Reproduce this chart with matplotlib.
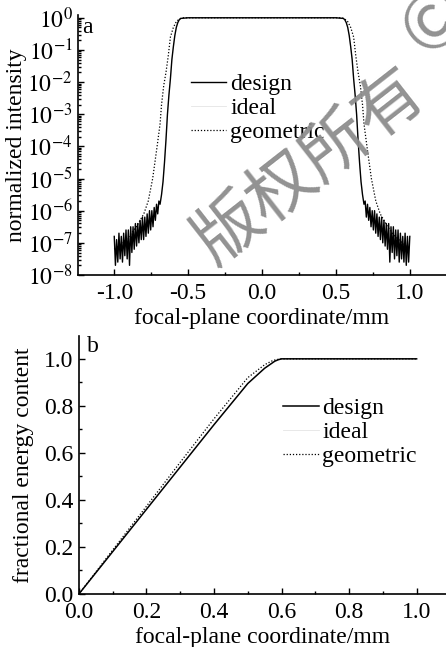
import numpy as np
import matplotlib
matplotlib.use("Agg")
import matplotlib.pyplot as plt
from matplotlib.ticker import LogLocator, MultipleLocator, NullFormatter, FuncFormatter

plt.rcParams['font.family'] = ['Liberation Serif', 'DejaVu Serif']
plt.rcParams['mathtext.fontset'] = 'stix'

# ---------------- panel a data (log10 of normalized intensity) ----------------
tail_left_log = [-6.8, -7.7, -6.9, -7.6, -6.7, -7.5, -6.8, -7.6, -6.7, -7.4,
                 -6.6, -7.5, -6.6, -7.7, -6.5, -7.3, -6.5, -7.2, -6.4, -7.1,
                 -6.4, -7.0, -6.3, -6.9, -6.2, -6.9, -6.2, -6.8, -6.1, -6.7,
                 -6.0, -6.6, -6.0, -6.5, -5.9, -6.3, -5.8, -6.1, -5.7, -5.8]
tail_right_log = [-5.8, -5.7, -6.2, -5.8, -6.3, -5.9, -6.5, -6.0, -6.6, -6.0,
                  -6.7, -6.1, -6.8, -6.2, -6.9, -6.2, -7.0, -6.3, -7.1, -6.4,
                  -7.2, -6.4, -7.6, -6.5, -7.3, -6.5, -7.5, -6.6, -7.4, -6.6,
                  -7.6, -6.7, -7.5, -6.8, -7.6, -6.7, -7.7, -6.8, -7.6, -6.8]
core_x = [-0.68, -0.67, -0.66, -0.65, -0.64, -0.63, -0.62, -0.61, -0.60, -0.59,
          -0.58, -0.57, -0.56, -0.55, -0.50, 0.0, 0.50, 0.55, 0.56, 0.57, 0.58,
          0.59, 0.60, 0.61, 0.62, 0.63, 0.64, 0.65, 0.66, 0.67, 0.68]
core_log = [-5.5, -5.1, -4.5, -3.8, -3.0, -2.4, -1.9, -1.3, -0.9, -0.55,
            -0.3, -0.15, -0.06, -0.02, 0.0, 0.0, 0.0, -0.02, -0.06, -0.15, -0.3,
            -0.55, -0.9, -1.3, -1.9, -2.4, -3.0, -3.8, -4.5, -5.1, -5.5]

geo_x = [-1.0, -0.9, -0.85, -0.80, -0.77, -0.74, -0.71, -0.69, -0.68, -0.665,
         -0.65, -0.635, -0.62, -0.60, -0.58, -0.56, -0.54,
         0.0, 0.54, 0.56, 0.58, 0.60, 0.62, 0.635, 0.65, 0.665, 0.68, 0.69,
         0.71, 0.74, 0.77, 0.80, 0.85, 0.9, 1.0]
geo_log = [-7.2, -6.8, -6.5, -6.1, -5.7, -5.0, -4.0, -3.3, -2.7, -2.1,
           -1.7, -1.2, -0.6, -0.3, -0.12, -0.04, 0.0,
           0.0, 0.0, -0.04, -0.12, -0.3, -0.6, -1.2, -1.7, -2.1, -2.7, -3.3,
           -4.0, -5.0, -5.7, -6.1, -6.5, -6.8, -7.2]

# ---------------- panel b data (fractional energy content) ----------------
fe_x = [0.0, 0.1, 0.2, 0.3, 0.4, 0.5, 0.55, 0.57, 0.58, 0.59, 0.60, 0.62, 1.0]
fe_design = [0.0, 0.18, 0.36, 0.54, 0.72, 0.895, 0.96, 0.98, 0.99, 0.996, 1.0, 1.0, 1.0]
fe_geo = [0.0, 0.187, 0.373, 0.56, 0.745, 0.92, 0.975, 0.99, 0.995, 0.998, 1.0, 1.0, 1.0]

# ---------------------------------------------------------------
tx_left = np.linspace(-1.0, -0.69, len(tail_left_log))
tx_right = np.linspace(0.69, 1.0, len(tail_right_log))
des_x = np.concatenate([tx_left, core_x, tx_right])
des_y = 10.0 ** np.array(tail_left_log + core_log + tail_right_log)
ideal_x = np.array(core_x)
ideal_y = 10.0 ** np.array(core_log)

fig = plt.figure(figsize=(4.46, 6.47), dpi=100)

FS = 17
# ---- panel a ----
axa = fig.add_axes([0.175, 0.575, 0.825, 0.402])
axa.plot(ideal_x, ideal_y, color='#e4e4e4', lw=0.6, label='ideal')
axa.plot(geo_x, 10.0 ** np.array(geo_log), color='black', lw=0.9, ls=(0, (1, 1.5)), label='geometric')
axa.plot(des_x, des_y, color='black', lw=1.0, label='design')
axa.set_yscale('log')
axa.set_xlim(-1.245, 1.245)
axa.set_ylim(1e-8, 10 ** 0.09)
axa.yaxis.set_major_locator(LogLocator(base=10, numticks=20))
axa.yaxis.set_minor_locator(LogLocator(base=10, subs=np.arange(2, 10), numticks=20))
axa.yaxis.set_minor_formatter(NullFormatter())
axa.yaxis.set_major_formatter(FuncFormatter(lambda v, p: r'$10^{%d}$' % round(np.log10(v))))
axa.xaxis.set_major_locator(MultipleLocator(0.5))
axa.xaxis.set_minor_locator(MultipleLocator(0.25))
axa.xaxis.set_major_formatter(FuncFormatter(lambda v, p: '%.1f' % v))
axa.set_xlabel('focal-plane coordinate/mm', fontsize=FS, labelpad=3)
axa.set_ylabel('normalized intensity', fontsize=FS, labelpad=0)
axa.text(0.012, 0.99, 'a', transform=axa.transAxes, fontsize=FS, va='top', ha='left')

h, l = axa.get_legend_handles_labels()
order = [2, 0, 1]
axa.legend([h[i] for i in order], [l[i] for i in order], loc='upper left',
           bbox_to_anchor=(0.275, 0.82), frameon=False, fontsize=FS,
           handlelength=1.5, handletextpad=0.15, labelspacing=0.1, borderpad=0)

# ---- panel b ----
axb = fig.add_axes([0.177, 0.082, 0.823, 0.399])
axb.plot(fe_x, fe_design, color='#e4e4e4', lw=0.6, label='ideal')
axb.plot(fe_x, fe_geo, color='black', lw=0.9, ls=(0, (1, 1.5)), label='geometric')
axb.plot(fe_x, fe_design, color='black', lw=1.1, label='design')
axb.set_xlim(0, 1.087)
axb.set_ylim(0, 1.098)
axb.xaxis.set_major_locator(MultipleLocator(0.2))
axb.xaxis.set_minor_locator(MultipleLocator(0.1))
axb.yaxis.set_major_locator(MultipleLocator(0.2))
axb.yaxis.set_minor_locator(MultipleLocator(0.1))
axb.xaxis.set_major_formatter(FuncFormatter(lambda v, p: '%.1f' % v))
axb.yaxis.set_major_formatter(FuncFormatter(lambda v, p: '%.1f' % v))
axb.set_xlabel('focal-plane coordinate/mm', fontsize=FS, labelpad=3)
axb.set_ylabel('fractional energy content', fontsize=FS, labelpad=7)
axb.text(0.022, 1.0, 'b', transform=axb.transAxes, fontsize=FS, va='top', ha='left')
h, l = axb.get_legend_handles_labels()
axb.legend([h[i] for i in order], [l[i] for i in order], loc='upper left',
           bbox_to_anchor=(0.524, 0.805), frameon=False, fontsize=FS,
           handlelength=1.5, handletextpad=0.15, labelspacing=0.1, borderpad=0)

for ax in (axa, axb):
    ax.spines['top'].set_visible(False)
    ax.spines['right'].set_visible(False)
    ax.tick_params(which='both', direction='in', labelsize=FS, width=1.0)
    ax.tick_params(axis='x', pad=6)
    ax.tick_params(axis='y', pad=4)
    ax.tick_params(which='major', length=4)
    ax.tick_params(which='minor', length=2)
    ax.spines['left'].set_linewidth(1.2)
    ax.spines['bottom'].set_linewidth(1.2)

# watermark
fig.text(310 / 446, 1 - 167 / 647, '版权所有', fontsize=49, color='#8c8c8c',
         family=['Noto Sans CJK SC', 'DejaVu Sans'], rotation=38,
         ha='center', va='center', alpha=0.95, zorder=10)
fig.text(436 / 446, 1 - 22 / 647, '©', fontsize=54, color='#8c8c8c',
         family=['Noto Sans CJK SC', 'DejaVu Sans'], rotation=38,
         ha='center', va='center', alpha=0.95, zorder=10)

fig.savefig('out.png', dpi=100)
